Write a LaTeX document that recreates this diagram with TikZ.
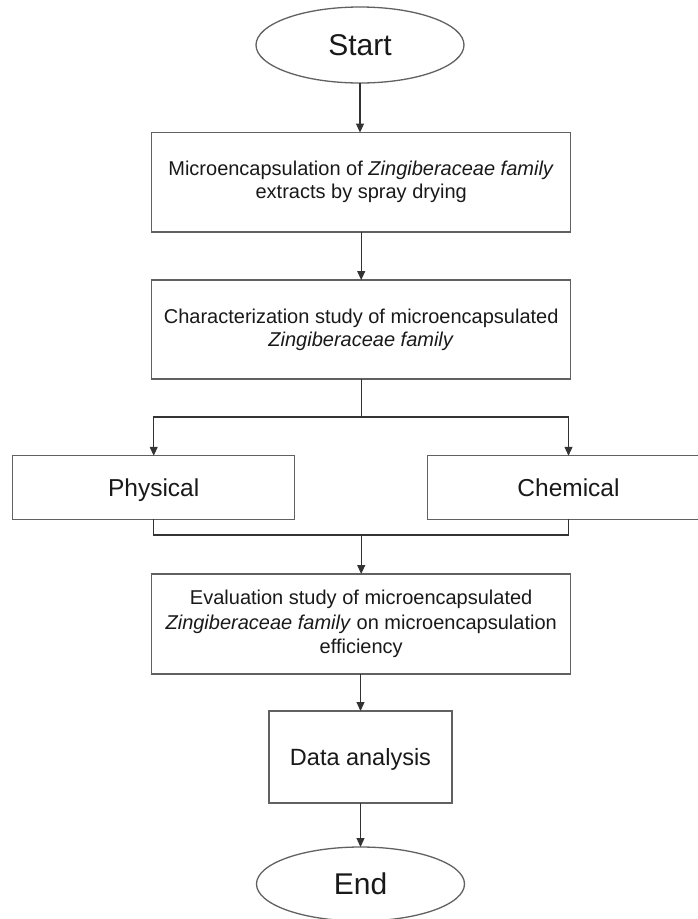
\documentclass[tikz,border=0pt]{standalone}
\usepackage{fontspec}
\setmainfont{Liberation Sans}
\usetikzlibrary{shapes.geometric,arrows.meta}
\begin{document}
\begin{tikzpicture}[x=1pt,y=-1pt,
  boxline/.style={draw=black!62,line width=1.3pt,inner sep=0pt,outer sep=0pt,text=black!90},
  procbox/.style={boxline,rectangle,align=center},
  onebox/.style={boxline,rectangle,text depth=0pt},
  term/.style={boxline,ellipse,font=\fontsize{30}{34}\selectfont,text height=21.5pt,text depth=0pt},
  arr/.style={draw=black!80,line width=1.1pt,-{Triangle[width=8pt,length=9pt]}},
  conn/.style={draw=black!80,line width=1.1pt}]
\useasboundingbox (0,0) rectangle (698,919);
\clip (0,0) rectangle (698,919);
\node[term,minimum width=208,minimum height=76] (start) at (360,45) {Start};
\node[procbox,minimum width=419,minimum height=99.5,font=\fontsize{20}{23}\selectfont] (box1) at (361.2,182.3)
  {Microencapsulation of \textit{Zingiberaceae family}\\extracts by spray drying};
\node[procbox,minimum width=419,minimum height=99,font=\fontsize{20}{23}\selectfont] (box2) at (361.2,329.5)
  {Characterization study of microencapsulated\\\textit{Zingiberaceae family}};
\node[onebox,minimum width=282,minimum height=63.5,text height=17.5pt,font=\fontsize{24.5}{28}\selectfont] (phys) at (153.7,487.5) {Physical};
\node[onebox,minimum width=282,minimum height=63.5,text height=17.5pt,font=\fontsize{24.5}{28}\selectfont] (chem) at (568.5,487.5) {Chemical};
\node[procbox,minimum width=419,minimum height=100,font=\fontsize{20}{24.5}\selectfont] (box3) at (361.2,624)
  {Evaluation study of microencapsulated\\\textit{Zingiberaceae family} on microencapsulation\\efficiency};
\node[onebox,minimum width=183,minimum height=92,text height=16.8pt,font=\fontsize{23.5}{27}\selectfont] (data) at (360.5,757) {Data analysis};
\node[term,minimum width=208,minimum height=74] (end) at (360.5,884) {End};
\coordinate (split) at (361.2,417);
\coordinate (join) at (361.2,535);
\draw[arr] (start.south) -- (start.south |- box1.north);
\draw[arr] (box1.south) -- (box2.north);
\draw[conn] (box2.south) -- (split);
\draw[arr] (split) -| (phys.north);
\draw[arr] (split) -| (chem.north);
\draw[conn] (phys.south) |- (join) -| (chem.south);
\draw[arr] (join) -- (box3.north);
\draw[arr] (box3.south -| data.north) -- (data.north);
\draw[arr] (data.south) -- (data.south |- end.north);
\end{tikzpicture}
\end{document}
